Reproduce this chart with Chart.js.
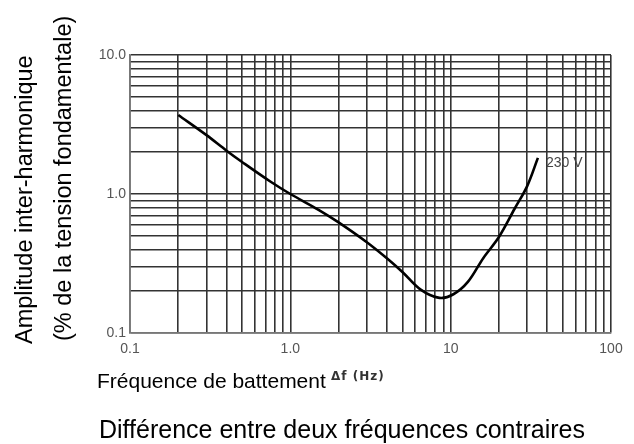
<!DOCTYPE html>
<html lang="fr">
<head>
  <meta charset="UTF-8" />
  <title>Amplitude inter-harmonique</title>
  <script src="https://cdn.jsdelivr.net/npm/chart.js"></script>
  <style>
    body { margin: 0; background: #fff; }
    canvas { display: block; }
  </style>
</head>
<body>
  <canvas id="chart" width="634" height="444"></canvas>

  <script>
    // courbe 230 V
    const freqDiff = [0.2, 0.3, 0.4, 0.5, 0.75, 1.0, 1.5, 2.0, 3.0, 4.0, 5.0, 6.5, 8.5, 10.4, 12.8, 16, 20, 25, 30, 35];
    const amplitude = [3.7, 2.65, 2.05, 1.7, 1.23, 1.0, 0.77, 0.625, 0.45, 0.345, 0.275, 0.205, 0.179, 0.19, 0.233, 0.347, 0.49, 0.78, 1.14, 1.82];
    const curveLabel = "230 V";

    // grille log
    const xGrid = [0.1, 0.2, 0.3, 0.4, 0.5, 0.6, 0.7, 0.8, 0.9,
                   1, 2, 3, 4, 5, 6, 7, 8, 9,
                   10, 20, 30, 40, 50, 60, 70, 80, 90, 100];
    const yGrid = [0.1, 0.2, 0.3, 0.4, 0.5, 0.6, 0.7, 0.8, 0.9,
                   1, 2, 3, 4, 5, 6, 7, 8, 9, 10];
    const xTickLabels = { 0.1: "0.1", 1: "1.0", 10: "10", 100: "100" };
    const yTickLabels = { 0.1: "0.1", 1: "1.0", 10: "10.0" };

    const font = '"Liberation Sans", Arial, sans-serif';

    const textPlugin = {
      id: "texts",
      afterDraw(chart) {
        const ctx = chart.ctx;
        const xs = chart.scales.x, ys = chart.scales.y;
        ctx.save();
        ctx.fillStyle = "#000";
        ctx.textAlign = "left";
        ctx.textBaseline = "alphabetic";

        // titre axe y (deux lignes, pivotées)
        ctx.font = "23.5px " + font;
        ctx.save();
        ctx.translate(32, 344);
        ctx.rotate(-Math.PI / 2);
        ctx.fillText("Amplitude inter-harmonique", 0, 0);
        ctx.restore();
        ctx.save();
        ctx.translate(71, 341);
        ctx.rotate(-Math.PI / 2);
        ctx.fillText("(% de la tension fondamentale)", 0, 0);
        ctx.restore();

        // titres axe x
        ctx.font = "21px " + font;
        ctx.fillText("Fréquence de battement", 97, 388);
        ctx.font = 'bold 12px "DejaVu Sans", sans-serif';
        ctx.letterSpacing = "1px";
        ctx.fillStyle = "#333";
        ctx.fillText("\u0394f (Hz)", 331, 380);
        ctx.letterSpacing = "0px";
        ctx.fillStyle = "#000";
        ctx.font = "25px " + font;
        ctx.fillText("Différence entre deux fréquences contraires", 99, 438);

        // étiquette de la courbe
        const n = freqDiff.length - 1;
        ctx.font = "14px " + font;
        ctx.fillStyle = "#444";
        ctx.textBaseline = "middle";
        ctx.fillText(curveLabel, xs.getPixelForValue(freqDiff[n]) + 8, ys.getPixelForValue(amplitude[n]) + 5);
        ctx.restore();
      }
    };

    const gridOpts = { color: "#333", lineWidth: 1.6, drawTicks: false };
    const tickFont = { family: font, size: 14 };

    new Chart(document.getElementById("chart"), {
      type: "scatter",
      data: {
        datasets: [{
          label: curveLabel,
          data: freqDiff.map((f, i) => ({ x: f, y: amplitude[i] })),
          showLine: true,
          borderColor: "#000",
          borderWidth: 2.6,
          pointRadius: 0,
          tension: 0.35,
          fill: false
        }]
      },
      options: {
        responsive: false,
        animation: false,
        layout: { padding: { left: 90, top: 55, right: 23, bottom: 91 } },
        plugins: { legend: { display: false }, tooltip: { enabled: false } },
        scales: {
          x: {
            type: "logarithmic",
            min: 0.1,
            max: 100,
            afterBuildTicks: s => { s.ticks = xGrid.map(v => ({ value: v })); },
            afterFit: s => { s.height = 20; },
            grid: gridOpts,
            border: { display: true, color: "#777", width: 1.6 },
            ticks: {
              autoSkip: false,
              maxRotation: 0,
              padding: 8,
              color: "#555",
              font: tickFont,
              callback: v => xTickLabels[v] || ""
            }
          },
          y: {
            type: "logarithmic",
            min: 0.1,
            max: 10,
            afterBuildTicks: s => { s.ticks = yGrid.map(v => ({ value: v })); },
            afterFit: s => { s.width = 40; },
            grid: gridOpts,
            border: { display: true, color: "#777", width: 1.6 },
            ticks: {
              autoSkip: false,
              padding: 4,
              color: "#555",
              font: tickFont,
              callback: v => yTickLabels[v] || ""
            }
          }
        }
      },
      plugins: [textPlugin]
    });
  </script>
</body>
</html>
